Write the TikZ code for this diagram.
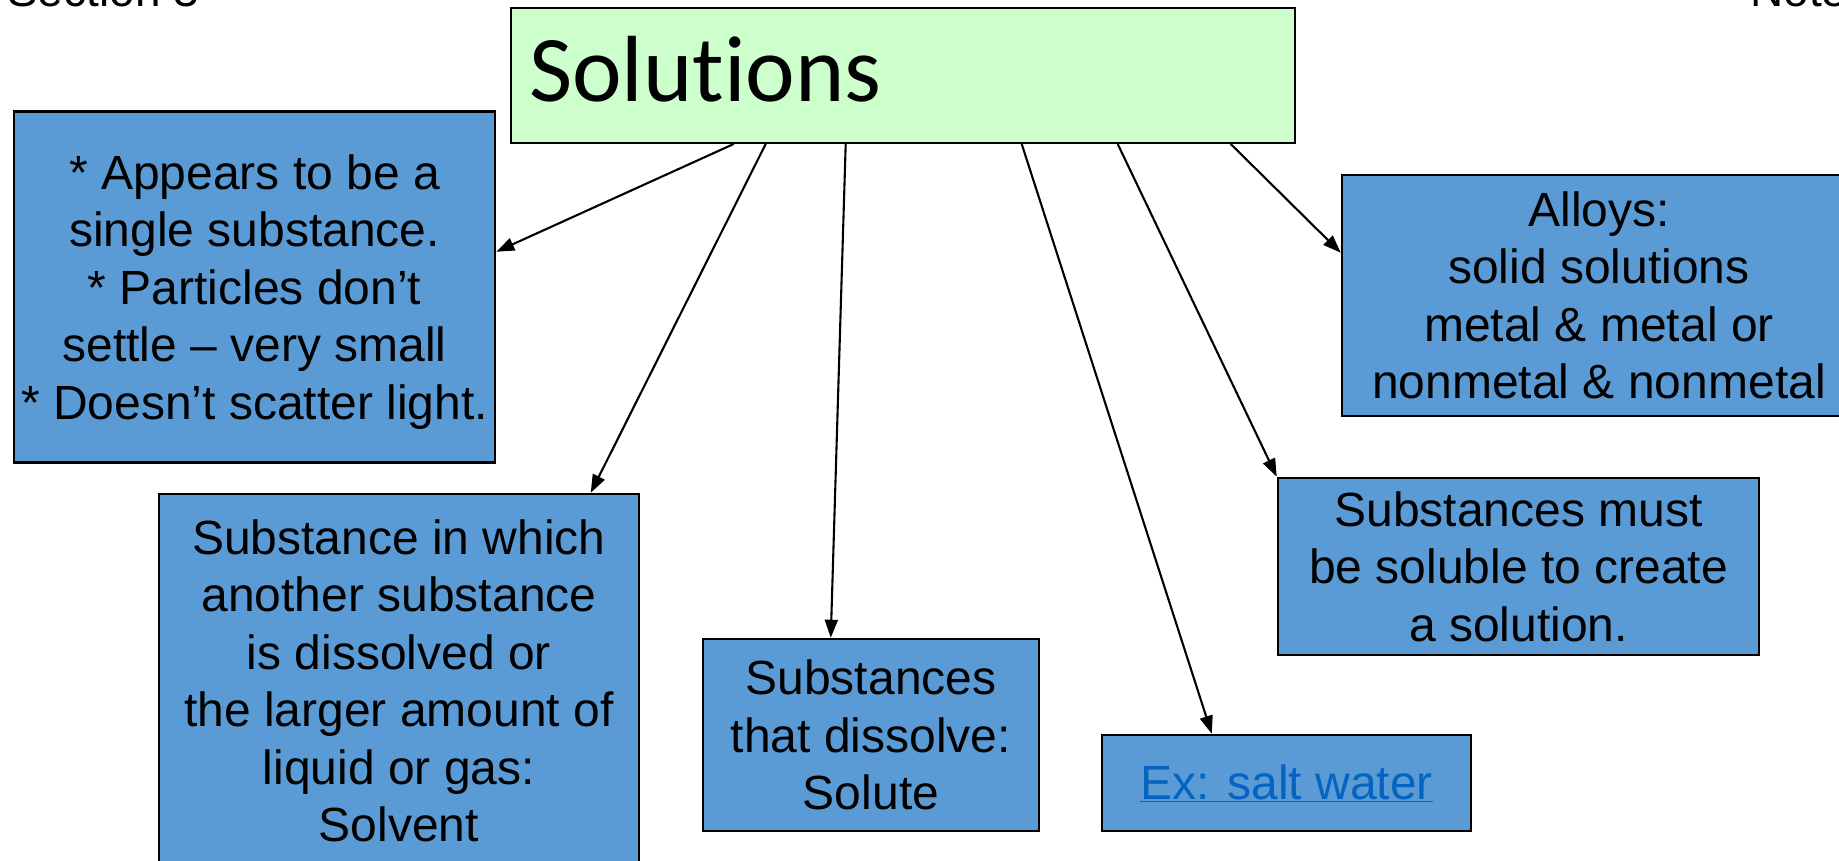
\documentclass[tikz,border=0pt]{standalone}
\usepackage{fontspec}
\setmainfont{Liberation Sans}
\newfontfamily\calibri[Ligatures={NoCommon,NoContextual}]{Carlito}
\usetikzlibrary{arrows.meta}
\definecolor{boxblue}{HTML}{5B9BD5}
\definecolor{titlegreen}{HTML}{CCFFCC}
\definecolor{linkblue}{HTML}{0563C1}
\tikzset{
  infobox/.style={draw=black, line width=2.5pt, fill=boxblue, align=center,
    inner sep=0pt, font=\fontsize{48}{57.5}\selectfont},
  boxtext/.style={align=center, inner sep=0pt, font=\fontsize{48}{57.5}\selectfont},
  titlebox/.style={draw=black, line width=2pt, fill=titlegreen, inner sep=0pt},
  arr/.style={line width=2.1pt, -{Triangle[length=18pt,width=13pt]}},
  headtext/.style={inner sep=0pt, anchor=base west, font=\fontsize{46}{55}\selectfont}
}
\begin{document}
\begin{tikzpicture}[x=1pt,y=-1pt]
\useasboundingbox (0,0) rectangle (1839,861);
\fill[white] (0,0) rectangle (1839,861);
% header texts
\node[headtext] (sec) at (7,7) {Section 3};
\node[headtext] (notes) at (1750,7) {Notes};
% title
\node[titlebox, minimum width=784.3pt, minimum height=134.7pt] (title) at (902.85,75.65) {};
\node[inner sep=0pt, anchor=base west, font=\calibri\fontsize{94}{100}\selectfont] (ttext) at (529,102) {Solutions};
% boxes
\node[infobox, minimum width=481pt, minimum height=351pt] (A) at (254.5,287) {};
\node[boxtext] (Atext) at (254.5,292)
  {* Appears to be a\\ single substance.\\ * Particles don’t\\ settle – very small\\ * Doesn’t scatter light.};
\node[infobox, minimum width=480pt, minimum height=374pt] (B) at (399,681)
  {Substance in which\\ another substance\\ is dissolved or\\ the larger amount of\\ liquid or gas:\\ Solvent};
\node[infobox, minimum width=336pt, minimum height=192pt] (C) at (871,735)
  {Substances\\ that dissolve:\\ Solute};
\node[infobox, minimum width=369pt, minimum height=96pt] (D) at (1286.5,783)
  {\textcolor{linkblue}{\underline{Ex: salt water}}};
\node[infobox, minimum width=481pt, minimum height=177pt] (E) at (1518.5,566.5)
  {Substances must\\ be soluble to create\\ a solution.};
\node[infobox, minimum width=514pt, minimum height=241pt] (F) at (1599,295.5)
  {Alloys:\\ solid solutions\\ metal \& metal or\\ nonmetal \& nonmetal};
% connectors
\draw[arr] ([xshift=224pt]title.south west) -- ([yshift=-141.5pt]A.north east);
\draw[arr] ([xshift=256pt]title.south west) -- ([xshift=433pt]B.north west);
\draw[arr] ([xshift=336pt]title.south west) -- ([xshift=129pt]C.north west);
\draw[arr] ([xshift=512pt]title.south west) -- ([xshift=111pt]D.north west);
\draw[arr] ([xshift=608pt]title.south west) -- (E.north west);
\draw[arr] ([xshift=721pt]title.south west) -- ([yshift=-79pt]F.north west);
\end{tikzpicture}
\end{document}
